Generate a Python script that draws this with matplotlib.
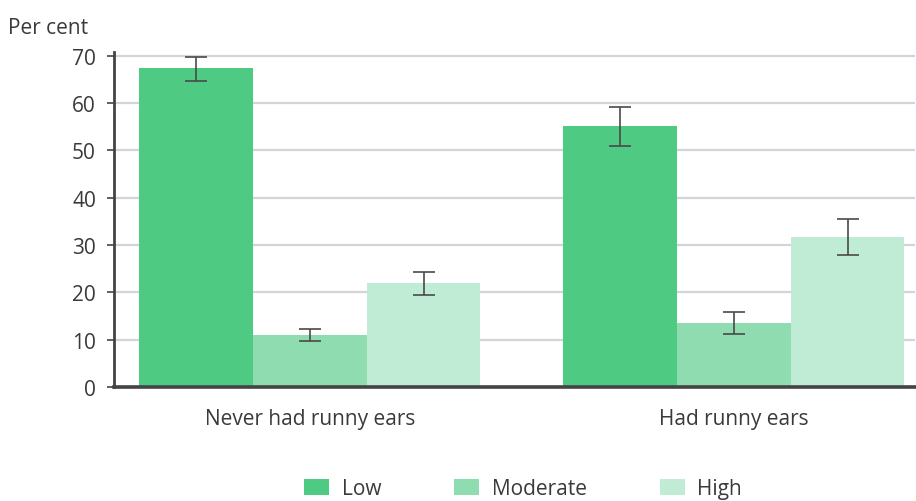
import matplotlib
matplotlib.use("Agg")
import matplotlib.pyplot as plt
import numpy as np

plt.rcParams['font.family'] = ['Open Sans', 'DejaVu Sans']

categories = ["Never had runny ears", "Had runny ears"]
series = ["Low", "Moderate", "High"]
values = {
    "Low": [67.4, 55.2],
    "Moderate": [11.0, 13.5],
    "High": [22.0, 31.7],
}
err_low = {
    "Low": [2.8, 4.2],
    "Moderate": [1.3, 2.2],
    "High": [2.5, 3.7],
}
err_high = {
    "Low": [2.3, 3.9],
    "Moderate": [1.3, 2.3],
    "High": [2.2, 3.9],
}
colors = {"Low": "#4fca82", "Moderate": "#8edcb0", "High": "#c0ecd6"}
yticks = [0, 10, 20, 30, 40, 50, 60, 70]

text_color = "#3a3a3a"
fs = 15

fig = plt.figure(figsize=(9.16, 5.02), dpi=100)
ax = fig.add_axes([114 / 916, 1 - 388 / 502, (915 - 114) / 916, (388 - 53) / 502])

x = np.arange(len(categories))
width = 0.268
for i, s in enumerate(series):
    pos = x + (i - 1) * width
    ax.bar(pos, values[s], width=width, color=colors[s], label=s, zorder=2)
    ax.errorbar(pos, values[s], yerr=[err_low[s], err_high[s]], fmt='none',
                ecolor="#4a4a4a", elinewidth=1.2, capsize=8, capthick=1.2, zorder=3)

ax.set_xlim(-0.462, 1.427)
ax.set_ylim(0, 70.8)
ax.set_yticks(yticks)
ax.set_yticklabels([str(v) for v in yticks])
ax.set_xticks(x)
ax.set_xticklabels(categories)

ax.grid(axis='y', color="#d3d3da", linewidth=1.6, zorder=0)
ax.set_axisbelow(True)

for side in ("top", "right"):
    ax.spines[side].set_visible(False)
ax.spines["left"].set_color("#444444")
ax.spines["left"].set_linewidth(2)
ax.spines["bottom"].set_color("#444444")
ax.spines["bottom"].set_linewidth(2.6)

ax.tick_params(axis='y', length=5, width=1.2, color="#444444", pad=8,
               labelsize=fs, labelcolor=text_color)
ax.tick_params(axis='x', length=0, pad=15, labelsize=fs, labelcolor=text_color)

fig.text(8 / 916, 1 - 29 / 502, "Per cent", fontsize=fs, color=text_color,
         ha='left', va='center')

leg = fig.legend(loc='center', bbox_to_anchor=(523 / 916, 1 - 490 / 502),
                 ncol=3, frameon=False, fontsize=fs, handlelength=1.2,
                 handleheight=0.8, handletextpad=0.6, columnspacing=3.5,
                 labelcolor=text_color)

fig.savefig("out.png", dpi=100)
